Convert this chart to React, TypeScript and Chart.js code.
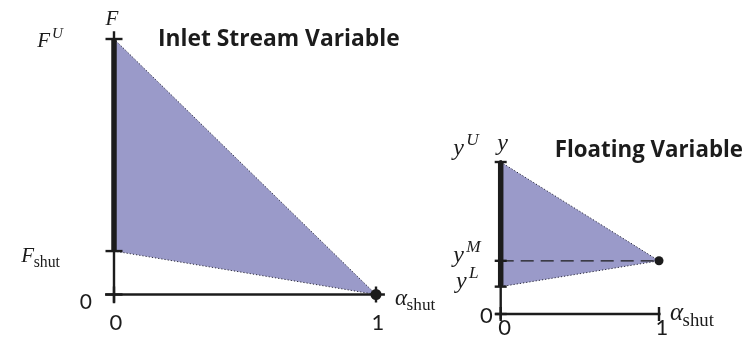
import React, { useEffect, useRef } from 'react';
import { Chart, registerables } from 'chart.js';

Chart.register(...registerables);

// ---- Inlet stream variable F versus alpha_shut ----
const inletTitle = 'Inlet Stream Variable';
const inletAxisName = 'F';
const inletUpper = 1; // F^U
const inletShut = 0.17; // F_shut
const inletApex = 0; // F at alpha_shut = 1
const inletYTicks = [0, inletShut, inletUpper];
const inletYTickText = [{ base: '0' }, { base: 'F', sub: 'shut' }, { base: 'F', sup: 'U' }];

// ---- Floating variable y versus alpha_shut ----
const floatTitle = 'Floating Variable';
const floatAxisName = 'y';
const floatUpper = 1; // y^U
const floatMid = 0.35; // y^M
const floatLower = 0.18; // y^L
const floatYTicks = [0, floatLower, floatMid, floatUpper];
const floatYTickText = [{ base: '0' }, { base: 'y', sup: 'L' }, { base: 'y', sup: 'M' }, { base: 'y', sup: 'U' }];

// ---- shared horizontal axis ----
const alphaTicks = [0, 1];
const alphaTickText = ['0', '1'];
const alphaName = { base: 'α', sub: 'shut' };

const INK = '#1c1c1c';
const REGION = '#9a9ac9';
const SERIF = '"Liberation Serif", "DejaVu Serif", serif';
const SANS = 'Lato, "Open Sans", sans-serif';
const TITLE_FONT = '"Open Sans", Lato, sans-serif';

type Rich = { base: string; sup?: string; sub?: string };
type Label = {
  x: number;
  y: number;
  dx: number;
  dy: number;
  align: 'left' | 'right' | 'center';
  text: Rich;
  kind: 'math' | 'sans' | 'title';
  size: number;
};

function drawRich(ctx: CanvasRenderingContext2D, l: Label, px: number, py: number) {
  const s = l.size;
  const runs: { t: string; font: string; dy: number; gap: number }[] = [];
  if (l.kind === 'title') runs.push({ t: l.text.base, font: `bold ${s}px ${TITLE_FONT}`, dy: 0, gap: 0 });
  else if (l.kind === 'sans') runs.push({ t: l.text.base, font: `${s}px ${SANS}`, dy: 0, gap: 0 });
  else runs.push({ t: l.text.base, font: `italic ${s}px ${SERIF}`, dy: 0, gap: 0 });
  if (l.text.sup) runs.push({ t: l.text.sup, font: `italic ${s * 0.72}px ${SERIF}`, dy: -0.42 * s, gap: 0.1 * s });
  if (l.text.sub) runs.push({ t: l.text.sub, font: `${s * 0.75}px ${SERIF}`, dy: 0.22 * s, gap: -0.02 * s });
  let total = 0;
  const widths = runs.map((r) => {
    ctx.font = r.font;
    const w = ctx.measureText(r.t).width;
    total += w + r.gap;
    return w;
  });
  let x = l.align === 'left' ? px : l.align === 'right' ? px - total : px - total / 2;
  ctx.save();
  ctx.fillStyle = INK;
  ctx.textBaseline = 'alphabetic';
  ctx.textAlign = 'left';
  runs.forEach((r, i) => {
    x += r.gap;
    ctx.font = r.font;
    ctx.fillText(r.t, x, py + r.dy);
    x += widths[i];
  });
  ctx.restore();
}

function labelPlugin(labels: Label[]) {
  return {
    id: 'richLabels',
    afterDatasetsDraw(chart: any) {
      const { ctx, scales } = chart;
      labels.forEach((l) => {
        drawRich(ctx, l, scales.x.getPixelForValue(l.x) + l.dx, scales.y.getPixelForValue(l.y) + l.dy);
      });
    },
  };
}

type PanelSpec = {
  top: number;
  bottom: number;
  apex: number;
  yTicks: number[];
  xExtent: [number, number];
  yExtent: [number, number];
  tickR: number;
  xTickR: number;
  dotR: number;
  dashedMid: boolean;
  padding: { left: number; right: number; top: number; bottom: number };
  labels: Label[];
};

function buildConfig(p: PanelSpec): any {
  // higher "order" values are painted first (further back)
  const line = (data: { x: number; y: number }[], width: number, order: number, extra: any = {}) => ({
    type: 'line',
    data,
    borderColor: INK,
    borderWidth: width,
    pointRadius: 0,
    fill: false,
    clip: false,
    order,
    ...extra,
  });
  const datasets: any[] = [
    // feasible region
    {
      type: 'line',
      data: [
        { x: 0, y: p.top },
        { x: 1, y: p.apex },
        { x: 0, y: p.bottom },
        { x: 0, y: p.top },
      ],
      borderColor: '#2a2a3a',
      borderWidth: 1,
      borderDash: [1.2, 2],
      backgroundColor: REGION,
      fill: 'shape',
      pointRadius: 0,
      clip: false,
      tension: 0,
      order: 10,
    },
  ];
  if (p.dashedMid) {
    datasets.push(
      line(
        [
          { x: 0, y: p.apex },
          { x: 1, y: p.apex },
        ],
        1.3,
        9,
        { borderDash: [13, 7] }
      )
    );
  }
  datasets.push(
    line(
      [
        { x: p.xExtent[0], y: 0 },
        { x: p.xExtent[1], y: 0 },
      ],
      2.4,
      8
    ),
    line(
      [
        { x: 0, y: p.yExtent[0] },
        { x: 0, y: p.yExtent[1] },
      ],
      2.4,
      8
    ),
    line(
      [
        { x: 0, y: p.bottom },
        { x: 0, y: p.top },
      ],
      5.5,
      7
    ),
    {
      type: 'scatter',
      data: p.yTicks.map((v) => ({ x: 0, y: v })),
      pointStyle: 'line',
      pointRadius: p.tickR,
      pointBorderWidth: 2.4,
      borderColor: INK,
      pointBorderColor: INK,
      clip: false,
      order: 6,
    },
    {
      type: 'scatter',
      data: alphaTicks.map((v) => ({ x: v, y: 0 })),
      pointStyle: 'line',
      rotation: 90,
      pointRadius: p.xTickR,
      pointBorderWidth: 2.4,
      borderColor: INK,
      pointBorderColor: INK,
      clip: false,
      order: 5,
    },
    {
      type: 'scatter',
      data: [{ x: 1, y: p.apex }],
      pointStyle: 'circle',
      pointRadius: p.dotR,
      pointBackgroundColor: INK,
      pointBorderColor: INK,
      pointBorderWidth: 0,
      clip: false,
      order: 4,
    }
  );
  return {
    type: 'scatter',
    data: { datasets },
    options: {
      animation: false,
      responsive: false,
      events: [],
      layout: { padding: p.padding },
      scales: {
        x: { type: 'linear', min: 0, max: 1, display: false },
        y: { type: 'linear', min: 0, max: 1, display: false },
      },
      plugins: { legend: { display: false }, tooltip: { enabled: false }, title: { display: false } },
    },
    plugins: [labelPlugin(p.labels)],
  };
}

const inletLabels: Label[] = [
  { x: 0, y: inletUpper, dx: -2, dy: -14, align: 'center', text: { base: inletAxisName }, kind: 'math', size: 21 },
  { x: 0, y: inletUpper, dx: 44, dy: 7, align: 'left', text: { base: inletTitle }, kind: 'title', size: 22.8 },
  { x: 0, y: inletYTicks[2], dx: -51, dy: 8, align: 'right', text: inletYTickText[2], kind: 'math', size: 21 },
  { x: 0, y: inletYTicks[1], dx: -54, dy: 11, align: 'right', text: inletYTickText[1], kind: 'math', size: 21 },
  { x: 0, y: inletYTicks[0], dx: -22, dy: 14, align: 'right', text: inletYTickText[0], kind: 'sans', size: 21 },
  { x: alphaTicks[0], y: 0, dx: 2, dy: 35, align: 'center', text: { base: alphaTickText[0] }, kind: 'sans', size: 22 },
  { x: alphaTicks[1], y: 0, dx: 2, dy: 35, align: 'center', text: { base: alphaTickText[1] }, kind: 'sans', size: 22 },
  { x: 1, y: 0, dx: 19, dy: 10, align: 'left', text: alphaName, kind: 'math', size: 23 },
];

const floatLabels: Label[] = [
  { x: 0, y: floatUpper, dx: 2, dy: -12, align: 'center', text: { base: floatAxisName }, kind: 'math', size: 24 },
  { x: 0, y: floatUpper, dx: 54, dy: -5, align: 'left', text: { base: floatTitle }, kind: 'title', size: 22.3 },
  { x: 0, y: floatYTicks[3], dx: -22, dy: -7, align: 'right', text: floatYTickText[3], kind: 'math', size: 24 },
  { x: 0, y: floatYTicks[2], dx: -20, dy: 1, align: 'right', text: floatYTickText[2], kind: 'math', size: 24 },
  { x: 0, y: floatYTicks[1], dx: -22, dy: 1, align: 'right', text: floatYTickText[1], kind: 'math', size: 24 },
  { x: 0, y: floatYTicks[0], dx: -8, dy: 9, align: 'right', text: floatYTickText[0], kind: 'sans', size: 22 },
  { x: alphaTicks[0], y: 0, dx: 4, dy: 21, align: 'center', text: { base: alphaTickText[0] }, kind: 'sans', size: 22 },
  { x: alphaTicks[1], y: 0, dx: 3, dy: 21, align: 'center', text: { base: alphaTickText[1] }, kind: 'sans', size: 22 },
  { x: 1, y: 0, dx: 11, dy: 6, align: 'left', text: alphaName, kind: 'math', size: 25 },
];

const inletSpec: PanelSpec = {
  top: inletUpper,
  bottom: inletShut,
  apex: inletApex,
  yTicks: inletYTicks,
  xExtent: [-0.034, 1.034],
  yExtent: [-0.034, 1.03],
  tickR: 8.5,
  xTickR: 8,
  dotR: 5.5,
  dashedMid: false,
  padding: { left: 114, right: 74, top: 39, bottom: 42.5 },
  labels: inletLabels,
};

const floatSpec: PanelSpec = {
  top: floatUpper,
  bottom: floatLower,
  apex: floatMid,
  yTicks: floatYTicks,
  xExtent: [-0.035, 1.01],
  yExtent: [-0.035, 1.012],
  tickR: 6,
  xTickR: 7,
  dotR: 4.5,
  dashedMid: true,
  padding: { left: 60.7, right: 87, top: 162, bottom: 23 },
  labels: floatLabels,
};

function Panel({ spec, left, width }: { spec: PanelSpec; left: number; width: number }) {
  const ref = useRef<HTMLCanvasElement | null>(null);
  useEffect(() => {
    if (!ref.current) return;
    const chart = new Chart(ref.current, buildConfig(spec));
    return () => chart.destroy();
  }, [spec]);
  return (
    <canvas
      ref={ref}
      width={width}
      height={337}
      style={{ position: 'absolute', left, top: 0, width, height: 337, display: 'block' }}
    />
  );
}

export default function App() {
  return (
    <div style={{ position: 'absolute', left: 0, top: 0, width: 746, height: 337, background: '#fff' }}>
      <Panel spec={inletSpec} left={0} width={450} />
      <Panel spec={floatSpec} left={440} width={306} />
    </div>
  );
}
